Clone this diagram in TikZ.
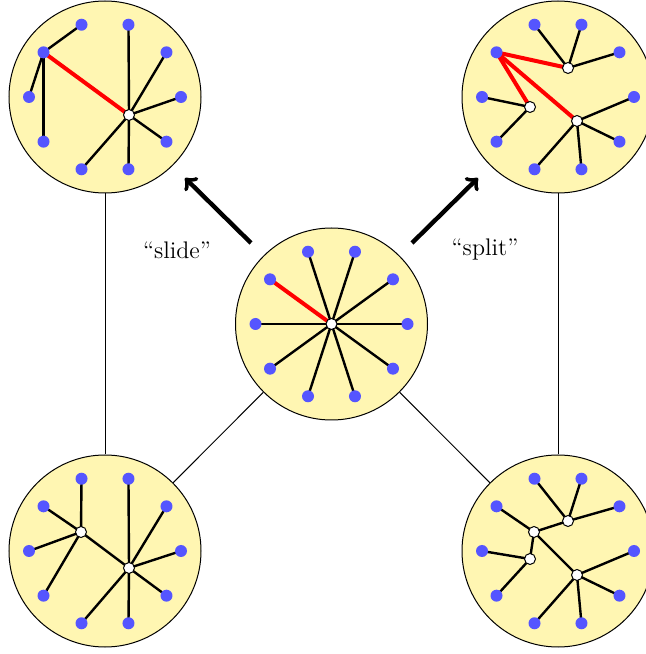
\documentclass[tikz,border=0pt]{standalone}
\usetikzlibrary{calc}
\definecolor{circfill}{RGB}{255,246,178}
\definecolor{dotblue}{RGB}{85,85,255}
\pgfdeclarelayer{back}
\pgfdeclarelayer{mid}
\pgfsetlayers{back,mid,main}
\begin{document}
\begin{tikzpicture}[x=0.5pt,y=0.5pt,
  big/.style={circle, draw=black, line width=0.5pt, fill=circfill, minimum size=96pt, inner sep=0pt},
  dot/.style={circle, fill=dotblue, inner sep=0pt, minimum size=6pt},
  hub/.style={circle, draw=black, fill=white, line width=0.5pt, inner sep=0pt, minimum size=5.5pt},
  edgeb/.style={line width=1.2pt, black},
  edger/.style={line width=2pt, red},
  thinline/.style={line width=0.5pt},
  bigarrow/.style={line width=2.2pt, ->},
  lab/.style={font=\fontsize{12}{14}\selectfont}]
\useasboundingbox (0,0) rectangle (645,654);
% circles and leaf dots
\foreach \p/\x/\y in {TL/105/557, TR/558/557, C/331.5/330, BL/105/103, BR/558/103}{
  \begin{pgfonlayer}{back}
    \node[big] (\p) at (\x,\y) {};
  \end{pgfonlayer}
  \foreach \a in {0,36,...,324}
    \node[dot] (\p-\a) at ($(\x,\y)+(\a:76)$) {};
}
% inner (white) nodes
\node[hub] (TLw) at ($(TL)+(24,-18)$) {};
\node[hub] (TRa) at ($(TR)+(10,29)$) {};
\node[hub] (TRb) at ($(TR)+(-28,-10)$) {};
\node[hub] (TRc) at ($(TR)+(19,-24)$) {};
\node[hub] (Cw) at (C) {};
\node[hub] (BLd) at ($(BL)+(-24,19)$) {};
\node[hub] (BLe) at ($(BL)+(24,-17)$) {};
\node[hub] (BRf) at ($(BR)+(10,30)$) {};
\node[hub] (BRg) at ($(BR)+(-24,19)$) {};
\node[hub] (BRh) at ($(BR)+(-28,-8)$) {};
\node[hub] (BRi) at ($(BR)+(19,-24)$) {};
% edges
\begin{pgfonlayer}{mid}
  % top left
  \foreach \a in {72,36,0,324,288,252} \draw[edgeb] (TLw.center) -- (TL-\a.center);
  \foreach \a in {108,180,216} \draw[edgeb] (TL-144.center) -- (TL-\a.center);
  \draw[edger] (TLw.center) -- (TL-144.center);
  % top right
  \foreach \a in {108,72,36} \draw[edgeb] (TRa.center) -- (TR-\a.center);
  \foreach \a in {180,216} \draw[edgeb] (TRb.center) -- (TR-\a.center);
  \foreach \a in {0,324,288,252} \draw[edgeb] (TRc.center) -- (TR-\a.center);
  \draw[edger] (TRa.center) -- (TR-144.center);
  \draw[edger] (TRb.center) -- (TR-144.center);
  \draw[edger] (TRc.center) -- (TR-144.center);
  % center
  \foreach \a in {0,36,72,108,180,216,252,288,324} \draw[edgeb] (Cw.center) -- (C-\a.center);
  \draw[edger] (Cw.center) -- (C-144.center);
  % bottom left
  \foreach \a in {108,144,180,216} \draw[edgeb] (BLd.center) -- (BL-\a.center);
  \draw[edgeb] (BLd.center) -- (BLe.center);
  \foreach \a in {72,36,0,324,288,252} \draw[edgeb] (BLe.center) -- (BL-\a.center);
  % bottom right
  \foreach \a in {108,72,36} \draw[edgeb] (BRf.center) -- (BR-\a.center);
  \draw[edgeb] (BRf.center) -- (BRg.center);
  \draw[edgeb] (BRg.center) -- (BR-144.center);
  \draw[edgeb] (BRg.center) -- (BRh.center);
  \draw[edgeb] (BRg.center) -- (BRi.center);
  \foreach \a in {180,216} \draw[edgeb] (BRh.center) -- (BR-\a.center);
  \foreach \a in {0,324,288,252} \draw[edgeb] (BRi.center) -- (BR-\a.center);
\end{pgfonlayer}
% thin connectors between circles
\begin{pgfonlayer}{back}
  \draw[thinline] (TL) -- (BL);
  \draw[thinline] (TR) -- (BR);
  \draw[thinline] (C) -- (BL);
  \draw[thinline] (C) -- (BR);
\end{pgfonlayer}
% arrows
\coordinate (s1) at (251,411);
\coordinate (e1) at (185,476);
\coordinate (s2) at (412,411);
\coordinate (e2) at (478,476);
\draw[bigarrow] (s1) -- (e1);
\draw[bigarrow] (s2) -- (e2);
\node[lab] (slide) at (177,404) {``slide''};
\node[lab] (split) at (485,404) {``split''};
\end{tikzpicture}
\end{document}
